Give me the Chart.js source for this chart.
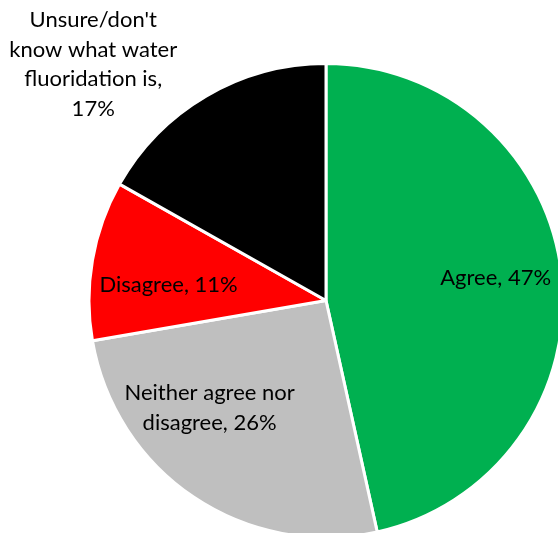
<!DOCTYPE html>
<html>
<head>
<meta charset="utf-8">
<script src="https://cdn.jsdelivr.net/npm/chart.js@4/dist/chart.umd.min.js"></script>
<style>
  html, body { margin: 0; padding: 0; background: #fff; overflow: hidden; }
  body { width: 558px; height: 533px; position: relative; }
  #canvas { position: absolute; left: 0; top: 0; }
</style>
</head>
<body>
<canvas id="canvas" width="565" height="539"></canvas>
<script>
const categories = [
  'Agree',
  'Neither agree nor disagree',
  'Disagree',
  "Unsure/don't know what water fluoridation is",
];
const percents = [47, 26, 11, 17];
const colors = ['#00B050', '#BFBFBF', '#FF0000', '#000000'];

// label text lines, wrapped the way they appear on the chart
const labelLines = [
  ['Agree, 47%'],
  ['Neither agree nor', 'disagree, 26%'],
  ['Disagree, 11%'],
  ["Unsure/don't", 'know what water', 'fluoridation is,', '17%'],
];
// label centres relative to the pie centre, in units of the radius
const labelOffsets = [
  [0.707, -0.093],
  [-0.485, 0.447],
  [-0.656, -0.064],
  [-0.97, -0.983],
];

const pieLabels = {
  id: 'pieLabels',
  afterDatasetsDraw(chart) {
    const c = chart.ctx;
    const arcs = chart.getDatasetMeta(0).data;
    c.save();
    c.font = '22px Lato';
    c.fillStyle = '#000';
    c.textAlign = 'center';
    c.textBaseline = 'middle';
    const lh = 29.5;
    arcs.forEach((arc, i) => {
      const r = arc.outerRadius + arc.options.borderWidth;
      const cx = arc.x + labelOffsets[i][0] * r;
      const cy = arc.y + labelOffsets[i][1] * r;
      const lines = labelLines[i];
      lines.forEach((txt, j) => {
        c.fillText(txt, cx, cy + (j - (lines.length - 1) / 2) * lh);
      });
    });
    c.restore();
  },
};

const ctx = document.getElementById('canvas').getContext('2d');
new Chart(ctx, {
  type: 'pie',
  data: {
    labels: categories,
    datasets: [
      {
        data: percents,
        backgroundColor: colors,
        borderColor: '#fff',
        borderWidth: 3,
        offset: 0,
        hoverOffset: 0,
      },
    ],
  },
  options: {
    responsive: false,
    animation: false,
    // pie sits low and right, running off the bottom and right edges
    layout: { padding: { left: 87, top: 62, right: 0, bottom: 0 } },
    plugins: {
      legend: { display: false },
      tooltip: { enabled: false },
    },
  },
  plugins: [pieLabels],
});
</script>
</body>
</html>
